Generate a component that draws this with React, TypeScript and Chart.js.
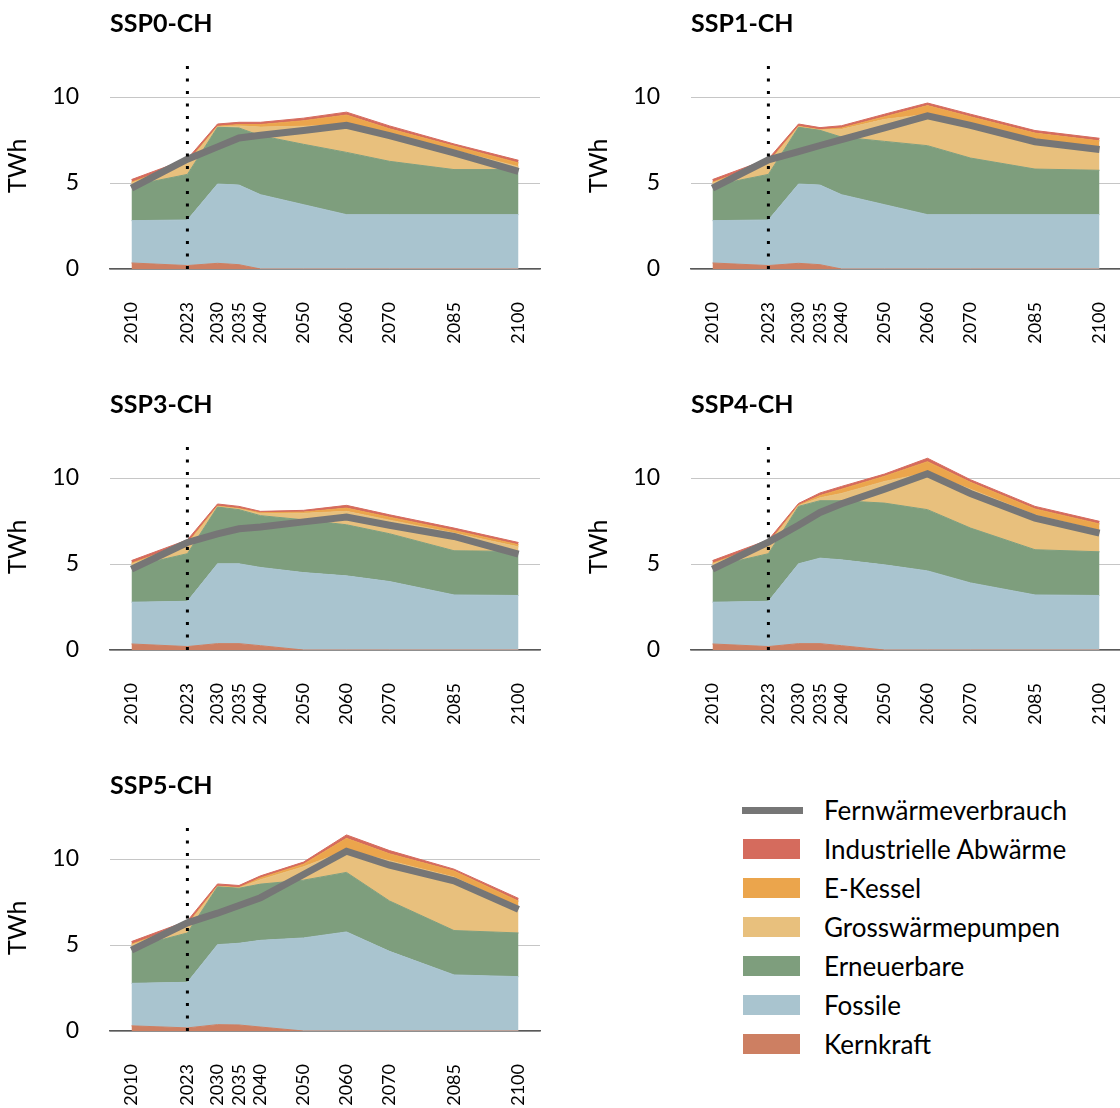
import React, { useEffect, useRef } from "react";
import { Chart, registerables } from "chart.js";

Chart.register(...registerables);
Chart.defaults.font.family = "Lato, 'Open Sans', sans-serif";

// ---------- data ----------
const YEARS = [2010, 2023, 2030, 2035, 2040, 2050, 2060, 2070, 2085, 2100];
const TICK_YEARS = [2010, 2023, 2030, 2035, 2040, 2050, 2060, 2070, 2085, 2100];
const Y_TICKS = [0, 5, 10];
const REF_YEAR = 2023;
const Y_MAX = 12;
const X_MIN = 2005;
const X_MAX = 2105;

const SERIES_NAMES = [
  "Kernkraft",
  "Fossile",
  "Erneuerbare",
  "Grosswärmepumpen",
  "E-Kessel",
  "Industrielle Abwärme",
];
const SERIES_COLORS = ["#CD7F62", "#A9C4CF", "#7E9E7D", "#E8C07D", "#EBA54C", "#D56B5D"];
const LINE_NAME = "Fernwärmeverbrauch";
const LINE_COLOR = "#767676";

const SCENARIOS = ["SSP0-CH", "SSP1-CH", "SSP3-CH", "SSP4-CH", "SSP5-CH"];

// SSP0-CH
const ssp0Kern = [0.35, 0.2, 0.33, 0.25, 0, 0, 0, 0, 0, 0];
const ssp0Foss = [2.46, 2.65, 4.61, 4.63, 4.32, 3.74, 3.16, 3.16, 3.16, 3.16];
const ssp0Ern = [2.04, 2.65, 3.3, 3.32, 3.43, 3.51, 3.62, 3.1, 2.62, 2.62];
const ssp0Gwp = [0.15, 0.65, 0.03, 0.12, 0.5, 1.05, 1.62, 1.54, 1.12, 0.17];
const ssp0Ek = [0.05, 0.07, 0.03, 0.08, 0.15, 0.32, 0.55, 0.35, 0.25, 0.22];
const ssp0Ind = [0.15, 0.18, 0.13, 0.13, 0.13, 0.15, 0.17, 0.17, 0.12, 0.15];
const ssp0Total = [4.7, 6.38, 7.1, 7.62, 7.78, 8.05, 8.35, 7.75, 6.75, 5.68];

// SSP1-CH
const ssp1Kern = [0.35, 0.2, 0.33, 0.25, 0, 0, 0, 0, 0, 0];
const ssp1Foss = [2.46, 2.65, 4.61, 4.63, 4.32, 3.74, 3.16, 3.16, 3.16, 3.16];
const ssp1Ern = [2.04, 2.65, 3.3, 3.18, 3.35, 3.68, 4.01, 3.29, 2.65, 2.58];
const ssp1Gwp = [0.15, 0.65, 0.03, 0.02, 0.45, 1.28, 1.83, 2.0, 1.69, 1.31];
const ssp1Ek = [0.05, 0.07, 0.03, 0.02, 0.08, 0.15, 0.5, 0.4, 0.4, 0.4];
const ssp1Ind = [0.15, 0.18, 0.13, 0.12, 0.13, 0.15, 0.15, 0.15, 0.15, 0.15];
const ssp1Total = [4.7, 6.35, 6.83, 7.18, 7.52, 8.21, 8.9, 8.35, 7.4, 6.95];

// SSP3-CH
const ssp3Kern = [0.35, 0.2, 0.37, 0.37, 0.25, 0, 0, 0, 0, 0];
const ssp3Foss = [2.43, 2.63, 4.64, 4.64, 4.55, 4.5, 4.31, 3.98, 3.2, 3.17];
const ssp3Ern = [2.07, 2.77, 3.3, 3.15, 3.01, 3.07, 2.97, 2.78, 2.57, 2.56];
const ssp3Gwp = [0.15, 0.55, 0.03, 0.04, 0.11, 0.38, 0.78, 0.79, 1.03, 0.27];
const ssp3Ek = [0.05, 0.07, 0.03, 0.03, 0.06, 0.07, 0.19, 0.17, 0.15, 0.12];
const ssp3Ind = [0.15, 0.18, 0.12, 0.12, 0.08, 0.1, 0.16, 0.14, 0.14, 0.13];
const ssp3Total = [4.7, 6.25, 6.75, 7.05, 7.15, 7.45, 7.73, 7.25, 6.6, 5.57];

// SSP4-CH
const ssp4Kern = [0.35, 0.2, 0.37, 0.37, 0.25, 0, 0, 0, 0, 0];
const ssp4Foss = [2.43, 2.63, 4.64, 4.97, 4.99, 4.95, 4.6, 3.9, 3.2, 3.17];
const ssp4Ern = [2.07, 2.77, 3.34, 3.34, 3.44, 3.59, 3.56, 3.19, 2.63, 2.54];
const ssp4Gwp = [0.15, 0.55, 0.04, 0.17, 0.42, 1.26, 2.14, 2.26, 2.02, 1.24];
const ssp4Ek = [0.05, 0.07, 0.03, 0.13, 0.25, 0.3, 0.65, 0.4, 0.35, 0.38];
const ssp4Ind = [0.15, 0.18, 0.1, 0.15, 0.16, 0.13, 0.2, 0.15, 0.15, 0.15];
const ssp4Total = [4.7, 6.27, 7.25, 8.0, 8.5, 9.35, 10.25, 9.1, 7.67, 6.8];

// SSP5-CH
const ssp5Kern = [0.3, 0.18, 0.37, 0.35, 0.23, 0, 0, 0, 0, 0];
const ssp5Foss = [2.47, 2.65, 4.65, 4.75, 5.04, 5.41, 5.76, 4.63, 3.26, 3.16];
const ssp5Ern = [2.08, 2.87, 3.36, 3.2, 3.27, 3.36, 3.46, 2.93, 2.58, 2.54];
const ssp5Gwp = [0.15, 0.45, 0.02, 0.02, 0.26, 0.78, 1.28, 2.34, 3.11, 1.5];
const ssp5Ek = [0.05, 0.07, 0.02, 0.02, 0.1, 0.15, 0.7, 0.4, 0.35, 0.35];
const ssp5Ind = [0.15, 0.18, 0.13, 0.12, 0.12, 0.12, 0.2, 0.19, 0.11, 0.16];
const ssp5Total = [4.7, 6.29, 6.85, 7.3, 7.75, 9.1, 10.45, 9.65, 8.73, 7.07];

const SCENARIO_SERIES = [
  [ssp0Kern, ssp0Foss, ssp0Ern, ssp0Gwp, ssp0Ek, ssp0Ind],
  [ssp1Kern, ssp1Foss, ssp1Ern, ssp1Gwp, ssp1Ek, ssp1Ind],
  [ssp3Kern, ssp3Foss, ssp3Ern, ssp3Gwp, ssp3Ek, ssp3Ind],
  [ssp4Kern, ssp4Foss, ssp4Ern, ssp4Gwp, ssp4Ek, ssp4Ind],
  [ssp5Kern, ssp5Foss, ssp5Ern, ssp5Gwp, ssp5Ek, ssp5Ind],
];
const SCENARIO_TOTALS = [ssp0Total, ssp1Total, ssp3Total, ssp4Total, ssp5Total];

// ---------- layout ----------
const PANEL_W = 560;
const PANEL_H = 381;
const COL_STEP = 581;
const ROW_STEP = 381;

const xy = (arr: number[]) => arr.map((v, i) => ({ x: YEARS[i], y: v }));

function Panel({ idx }: { idx: number }) {
  const ref = useRef<HTMLCanvasElement | null>(null);
  useEffect(() => {
    if (!ref.current) return;
    const series = SCENARIO_SERIES[idx];
    const areaSets = series.map((vals, i) => ({
      type: "line" as const,
      label: SERIES_NAMES[i],
      data: xy(vals),
      backgroundColor: SERIES_COLORS[i],
      borderColor: SERIES_COLORS[i],
      borderWidth: 1,
      fill: i === 0 ? "origin" : "-1",
      pointRadius: 0,
      tension: 0,
      stack: "mix",
      order: 0,
    }));
    const chart = new Chart(ref.current, {
      type: "line",
      data: {
        datasets: [
          ...areaSets,
          {
            label: LINE_NAME,
            data: xy(SCENARIO_TOTALS[idx]),
            borderColor: LINE_COLOR,
            backgroundColor: LINE_COLOR,
            borderWidth: 7,
            fill: false,
            pointRadius: 0,
            tension: 0,
            stack: "total",
            order: -1,
          },
          {
            label: "ref",
            data: [
              { x: REF_YEAR, y: 0 },
              { x: REF_YEAR, y: Y_MAX },
            ],
            borderColor: "#000",
            borderWidth: 3,
            borderDash: [3, 9.5],
            borderCapStyle: "butt",
            fill: false,
            pointRadius: 0,
            stack: "ref",
            order: -2,
          },
        ] as any,
      },
      options: {
        animation: false,
        responsive: false,
        maintainAspectRatio: false,
        layout: { padding: { left: 0, right: 20, top: 0, bottom: 0 } },
        plugins: {
          legend: { display: false },
          tooltip: { enabled: false },
          title: {
            display: true,
            text: SCENARIOS[idx],
            align: "start",
            fullSize: false,
            color: "#000",
            font: { size: 25, weight: "bold" },
            padding: { top: 9, bottom: 23.6 },
          },
        },
        scales: {
          x: {
            type: "linear",
            min: X_MIN,
            max: X_MAX,
            afterBuildTicks: (s: any) => {
              s.ticks = TICK_YEARS.map((v) => ({ value: v }));
            },
            afterFit: (s: any) => {
              s.height = 112;
              s.paddingLeft = 0;
              s.paddingRight = 0;
            },
            grid: { display: false, drawTicks: false },
            border: { display: true, color: "#595959", width: 1.5 },
            ticks: {
              autoSkip: false,
              minRotation: 90,
              maxRotation: 90,
              padding: 33,
              color: "#000",
              font: { size: 18 },
              callback: (v: any) => String(v),
            },
          },
          y: {
            stacked: true,
            min: 0,
            max: Y_MAX,
            afterBuildTicks: (s: any) => {
              s.ticks = Y_TICKS.map((v) => ({ value: v }));
            },
            afterFit: (s: any) => {
              s.width = 110;
              s.paddingTop = 0;
              s.paddingBottom = 0;
            },
            grid: { color: "#c6c6c6", lineWidth: 1, drawTicks: false },
            border: { display: false },
            ticks: { padding: 31, color: "#000", font: { size: 23 } },
            title: {
              display: true,
              text: "TWh",
              color: "#000",
              font: { size: 25 },
              padding: { top: 3, bottom: 0 },
            },
          },
        },
      } as any,
    });
    return () => chart.destroy();
  }, [idx]);
  const col = idx % 2;
  const row = Math.floor(idx / 2);
  return (
    <canvas
      ref={ref}
      width={PANEL_W}
      height={PANEL_H}
      style={{
        position: "absolute",
        left: col * COL_STEP,
        top: row * ROW_STEP,
        width: PANEL_W,
        height: PANEL_H,
      }}
    />
  );
}

function Legend() {
  const items = [
    { name: LINE_NAME, color: LINE_COLOR, line: true },
    ...SERIES_NAMES.map((n, i) => ({ name: n, color: SERIES_COLORS[i], line: false })).reverse(),
  ];
  return (
    <div style={{ position: "absolute", left: 742, top: 790.5, fontFamily: "Lato, 'Open Sans', sans-serif" }}>
      {items.map((it) => (
        <div key={it.name} style={{ display: "flex", alignItems: "center", height: 39 }}>
          <div style={{ width: 82, display: "flex", alignItems: "center" }}>
            {it.line ? (
              <div style={{ width: 61, height: 7, background: it.color }} />
            ) : (
              <div style={{ width: 57, height: 20, marginLeft: 1, background: it.color }} />
            )}
          </div>
          <span style={{ fontSize: 26, color: "#000", whiteSpace: "nowrap" }}>{it.name}</span>
        </div>
      ))}
    </div>
  );
}

export default function App() {
  return (
    <div style={{ position: "absolute", left: 0, top: 0, width: 1120, height: 1108, background: "#fff" }}>
      {SCENARIOS.map((_, i) => (
        <Panel key={i} idx={i} />
      ))}
      <Legend />
    </div>
  );
}
